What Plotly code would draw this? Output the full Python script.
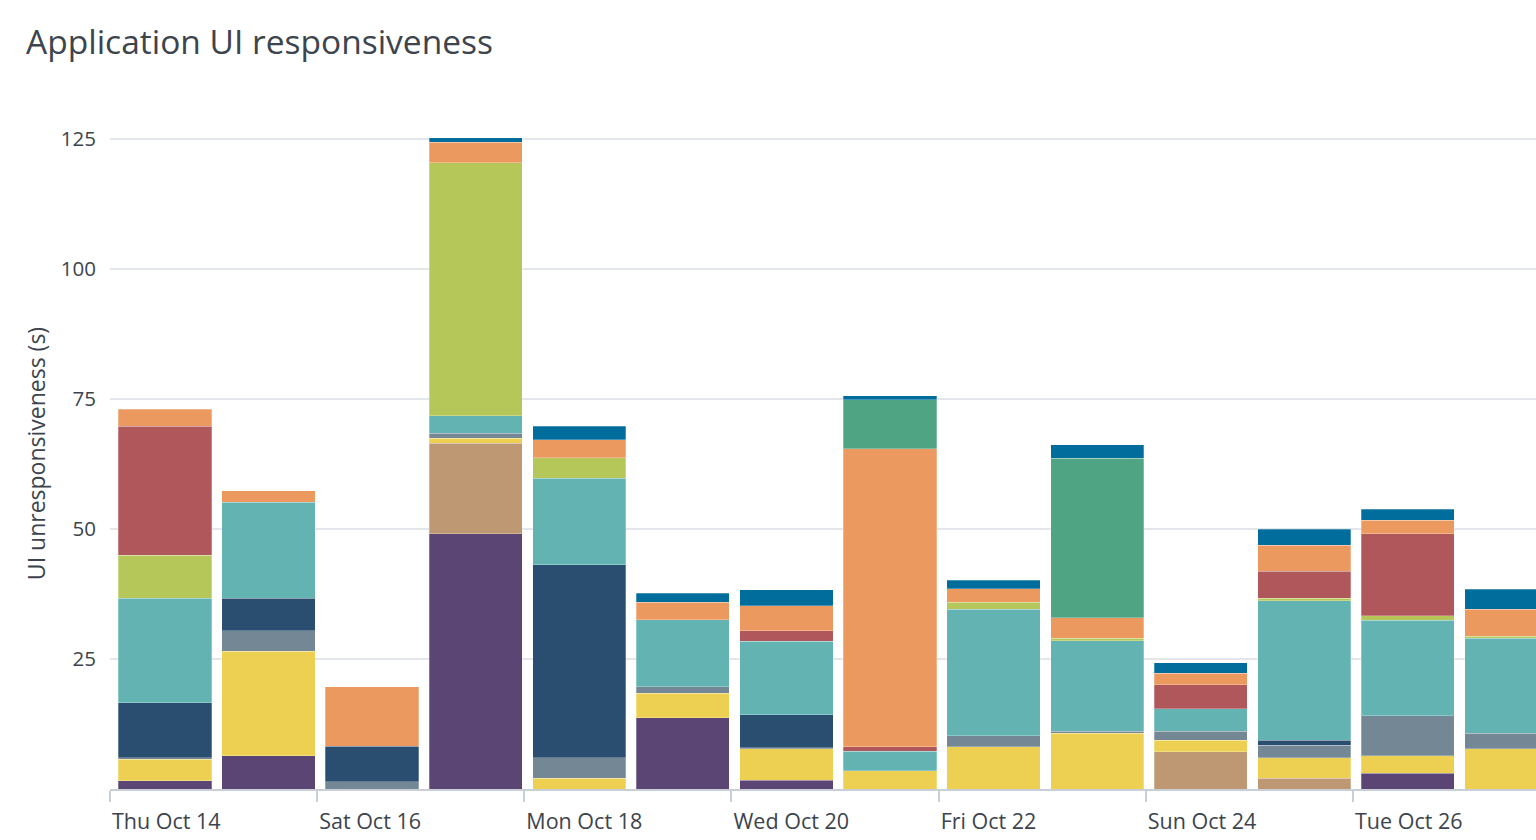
import plotly.graph_objects as go
from datetime import datetime, timedelta

# ---- data ----
days = ["2021-10-14", "2021-10-15", "2021-10-16", "2021-10-17", "2021-10-18", "2021-10-19", "2021-10-20",
        "2021-10-21", "2021-10-22", "2021-10-23", "2021-10-24", "2021-10-25", "2021-10-26", "2021-10-27"]

purple     = [1.6, 6.4, 0, 49.1, 0, 13.7, 1.7, 0, 0, 0, 0, 0, 3.0, 0]
tan        = [0, 0, 0, 17.4, 0, 0, 0, 0, 0, 0, 7.2, 2.1, 0, 0]
yellow     = [4.1, 20.1, 0, 0.9, 2.1, 4.7, 6.0, 3.5, 8.1, 10.7, 2.2, 3.9, 3.4, 7.75]
gray       = [0.3, 3.9, 1.4, 1.0, 3.9, 1.3, 0.2, 0, 2.15, 0.45, 1.7, 2.45, 7.7, 2.95]
darkblue   = [10.6, 6.3, 6.8, 0, 37.1, 0, 6.4, 0, 0, 0, 0, 0.95, 0, 0]
teal       = [20.1, 18.4, 0, 3.4, 16.65, 12.8, 14.1, 3.8, 24.3, 17.35, 4.3, 26.8, 18.3, 18.3]
lightgreen = [8.2, 0, 0, 48.6, 3.95, 0, 0, 0, 1.35, 0.5, 0, 0.5, 0.9, 0.4]
red        = [24.8, 0, 0, 0, 0, 0, 2.05, 0.8, 0, 0, 4.6, 5.2, 15.8, 0]
orange     = [3.3, 2.2, 11.5, 3.9, 3.4, 3.4, 4.75, 57.3, 2.6, 3.9, 2.25, 5.0, 2.6, 5.2]
green      = [0, 0, 0, 0, 0, 0, 0, 9.4, 0, 30.7, 0, 0, 0, 0]
blue       = [0, 0, 0, 0.9, 2.6, 1.7, 3.1, 0.8, 1.6, 2.55, 2.05, 3.0, 2.1, 3.8]

series_names = ["App 1", "App 2", "App 3", "App 4", "App 5", "App 6",
                "App 7", "App 8", "App 9", "App 10", "App 11"]
series_values = [purple, tan, yellow, gray, darkblue, teal, lightgreen, red, orange, green, blue]
series_colors = ["#5A4575", "#BD9872", "#EDD051", "#738795", "#294E70", "#62B3B2",
                 "#B6C75A", "#AF575A", "#EC9960", "#4FA484", "#006D9C"]

title_text = "Application UI responsiveness"
y_title = "UI unresponsiveness (s)"
y_ticks = [25, 50, 75, 100, 125]

# ---- figure ----
FONT = "'Open Sans', Lato, sans-serif"
TXT = "#3c444d"
day_ms = 86400000
x_days = [datetime.strptime(d, "%Y-%m-%d") for d in days]

fig = go.Figure()
for name, vals, col in zip(series_names, series_values, series_colors):
    fig.add_trace(go.Bar(
        x=x_days,
        y=[v if v else None for v in vals],
        name=name,
        width=0.9 * day_ms,
        offset=0.08 * day_ms,
        marker=dict(color=col, line=dict(color="rgba(255,255,255,0.45)", width=0.6)),
    ))

x_start = datetime(2021, 10, 14)
x_end = x_start + timedelta(days=13.767)

fig.update_layout(
    barmode="stack",
    width=1536, height=840,
    showlegend=False,
    plot_bgcolor="white", paper_bgcolor="white",
    margin=dict(l=110, r=0, t=118, b=51),
    font=dict(family=FONT, color=TXT, size=20),
    title=dict(text=title_text, x=26 / 1536, xanchor="left", xref="container",
               y=1 - 42 / 840, yanchor="middle", yref="container",
               font=dict(family=FONT, size=33.5, color=TXT)),
    xaxis=dict(
        type="date",
        range=[x_start, x_end],
        tick0="2021-10-14", dtick=2 * day_ms,
        tickformat="%a %b %-d",
        ticks="outside", ticklen=11, tickwidth=2, tickcolor="#c8cfd7",
        showline=True, linecolor="#c8cfd7", linewidth=2,
        showgrid=False, zeroline=False,
        ticklabelposition="outside right",
        ticklabelstandoff=12,
        tickfont=dict(family=FONT, size=21.5, color=TXT),
    ),
    yaxis=dict(
        range=[0, 129],
        tickvals=y_ticks,
        ticks="outside", ticklen=9, tickcolor="rgba(0,0,0,0)",
        showgrid=True, gridcolor="#e3e7ec", gridwidth=2,
        zeroline=False, showline=False,
        tickfont=dict(family=FONT, size=20.5, color=TXT),
        title=dict(text=y_title, standoff=8, font=dict(family=FONT, size=23, color=TXT)),
    ),
)

fig.write_html("out.html", config={"displayModeBar": False},
               post_script="document.body.style.margin='0';document.body.style.overflow='hidden';")
